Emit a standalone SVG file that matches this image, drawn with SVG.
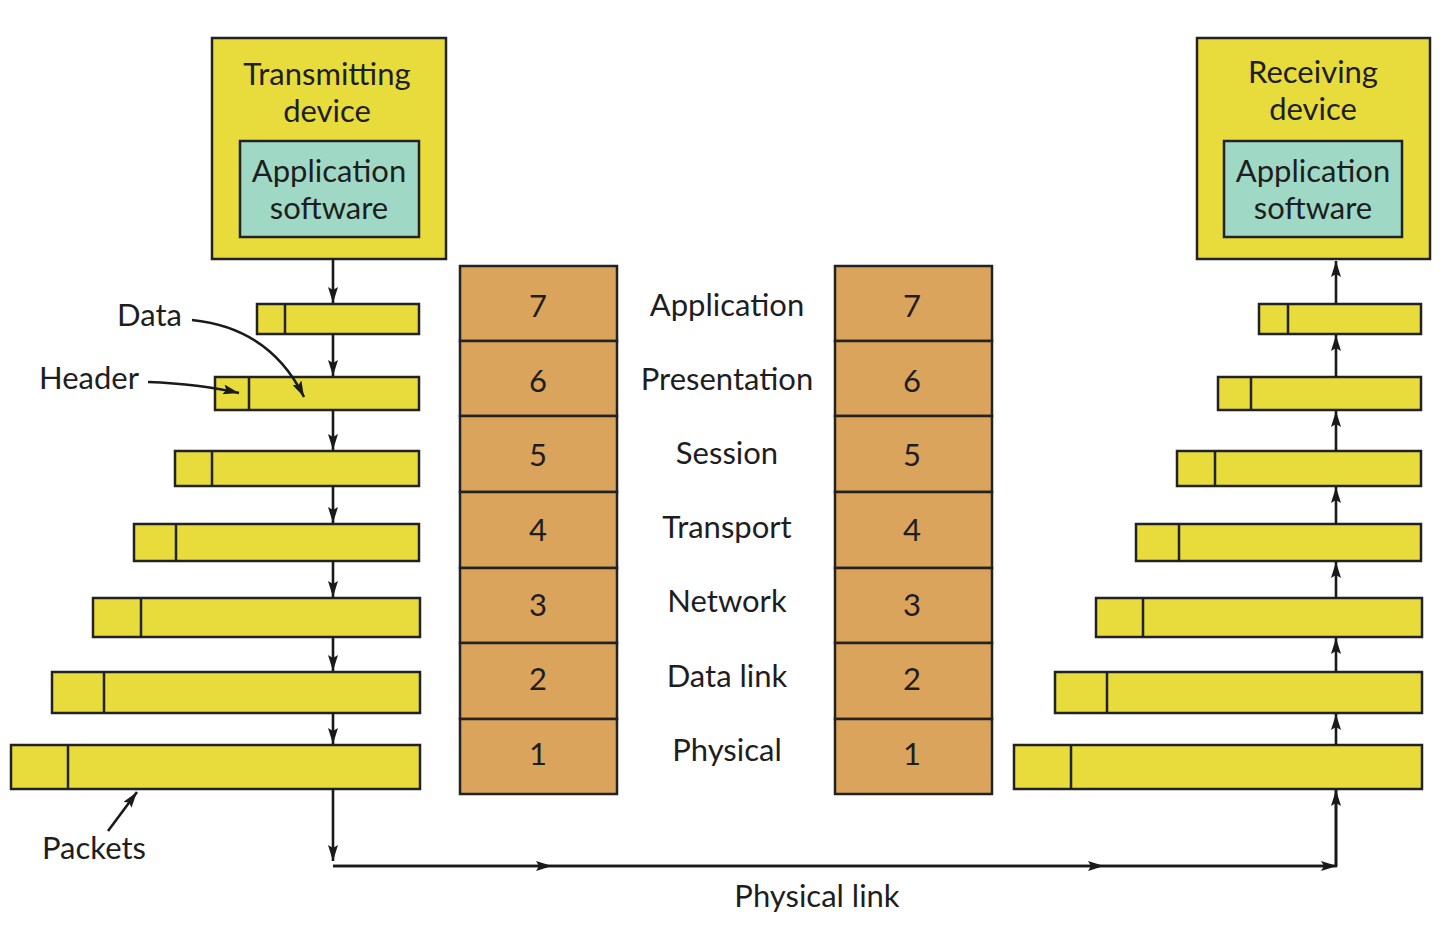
<svg xmlns="http://www.w3.org/2000/svg" width="1440" height="949" viewBox="0 0 1440 949">
<style>
text{font-family:Lato,"Liberation Sans",sans-serif;fill:#1e1e1e;font-size:31px;text-anchor:middle}
.lbl{text-anchor:start}
.dev{fill:#e7dc3c;stroke:#222;stroke-width:2.5}
.app{fill:#9fd9c6;stroke:#222;stroke-width:2.5}
.pk{fill:#e7dc3c;stroke:#222;stroke-width:2.5}
.div{stroke:#222;stroke-width:2.5}
.lay{fill:#dba45c;stroke:#222;stroke-width:2.5}
.ln{fill:none;stroke:#1a1a1a;stroke-width:2.6}
</style>
<defs>
<marker id="ah" viewBox="0 0 16 10" refX="16" refY="5" markerWidth="16" markerHeight="10" markerUnits="userSpaceOnUse" orient="auto"><path d="M0,0 L16,5 L0,10 L3,5 z" fill="#1a1a1a"/></marker>
</defs>
<rect width="1440" height="949" fill="#fff"/>
<g id="transmitting-device">
<rect class="dev" x="212" y="38" width="234" height="221"/>
<text x="327" y="85">Transmitting</text>
<text x="327" y="122">device</text>
</g>
<g id="transmit-app">
<rect class="app" x="240" y="141" width="179" height="96"/>
<text x="329" y="182">Application</text>
<text x="329" y="219">software</text>
</g>
<g id="receiving-device">
<rect class="dev" x="1197" y="38" width="233" height="221"/>
<text x="1313" y="83">Receiving</text>
<text x="1313" y="120">device</text>
</g>
<g id="receive-app">
<rect class="app" x="1224" y="141" width="178" height="96"/>
<text x="1313" y="182">Application</text>
<text x="1313" y="219">software</text>
</g>
<g id="tx-packets">
<rect class="pk" x="257" y="304" width="162" height="30"/><line class="div" x1="285" y1="304" x2="285" y2="334"/>
<rect class="pk" x="215" y="377" width="204" height="33"/><line class="div" x1="249" y1="377" x2="249" y2="410"/>
<rect class="pk" x="175" y="451" width="244" height="35"/><line class="div" x1="212" y1="451" x2="212" y2="486"/>
<rect class="pk" x="134" y="524" width="285" height="37"/><line class="div" x1="176" y1="524" x2="176" y2="561"/>
<rect class="pk" x="93" y="598" width="327" height="39"/><line class="div" x1="141" y1="598" x2="141" y2="637"/>
<rect class="pk" x="52" y="672" width="368" height="41"/><line class="div" x1="104" y1="672" x2="104" y2="713"/>
<rect class="pk" x="11" y="745" width="409" height="44"/><line class="div" x1="68" y1="745" x2="68" y2="789"/>
</g>
<g id="rx-packets">
<rect class="pk" x="1259" y="304" width="162" height="30"/><line class="div" x1="1288" y1="304" x2="1288" y2="334"/>
<rect class="pk" x="1218" y="377" width="203" height="33"/><line class="div" x1="1251" y1="377" x2="1251" y2="410"/>
<rect class="pk" x="1177" y="451" width="244" height="35"/><line class="div" x1="1215" y1="451" x2="1215" y2="486"/>
<rect class="pk" x="1136" y="524" width="285" height="37"/><line class="div" x1="1179" y1="524" x2="1179" y2="561"/>
<rect class="pk" x="1096" y="598" width="326" height="39"/><line class="div" x1="1143" y1="598" x2="1143" y2="637"/>
<rect class="pk" x="1055" y="672" width="367" height="41"/><line class="div" x1="1107" y1="672" x2="1107" y2="713"/>
<rect class="pk" x="1014" y="745" width="408" height="44"/><line class="div" x1="1071" y1="745" x2="1071" y2="789"/>
</g>
<g id="tx-stack">
<rect class="lay" x="460" y="266" width="157" height="75"/><text x="538" y="317">7</text>
<rect class="lay" x="460" y="341" width="157" height="75"/><text x="538" y="392">6</text>
<rect class="lay" x="460" y="416" width="157" height="76"/><text x="538" y="466">5</text>
<rect class="lay" x="460" y="492" width="157" height="76"/><text x="538" y="541">4</text>
<rect class="lay" x="460" y="568" width="157" height="75"/><text x="538" y="616">3</text>
<rect class="lay" x="460" y="643" width="157" height="76"/><text x="538" y="690">2</text>
<rect class="lay" x="460" y="719" width="157" height="75"/><text x="538" y="765">1</text>
</g>
<g id="rx-stack">
<rect class="lay" x="835" y="266" width="157" height="75"/><text x="912" y="317">7</text>
<rect class="lay" x="835" y="341" width="157" height="75"/><text x="912" y="392">6</text>
<rect class="lay" x="835" y="416" width="157" height="76"/><text x="912" y="466">5</text>
<rect class="lay" x="835" y="492" width="157" height="76"/><text x="912" y="541">4</text>
<rect class="lay" x="835" y="568" width="157" height="75"/><text x="912" y="616">3</text>
<rect class="lay" x="835" y="643" width="157" height="76"/><text x="912" y="690">2</text>
<rect class="lay" x="835" y="719" width="157" height="75"/><text x="912" y="765">1</text>
</g>
<g id="layer-names">
<text x="727" y="316">Application</text>
<text x="727" y="390">Presentation</text>
<text x="727" y="464">Session</text>
<text x="727" y="538">Transport</text>
<text x="727" y="612">Network</text>
<text x="727" y="687">Data link</text>
<text x="727" y="761">Physical</text>
</g>
<g id="annotations">
<text class="lbl" x="117" y="326">Data</text>
<text class="lbl" x="39" y="389">Header</text>
<text class="lbl" x="42" y="859">Packets</text>
<text x="817" y="907">Physical link</text>
</g>
<g id="connectors">
<line class="ln" x1="333" y1="259" x2="333" y2="303" marker-end="url(#ah)"/>
<line class="ln" x1="333" y1="334" x2="333" y2="376" marker-end="url(#ah)"/>
<line class="ln" x1="333" y1="410" x2="333" y2="450" marker-end="url(#ah)"/>
<line class="ln" x1="333" y1="486" x2="333" y2="523" marker-end="url(#ah)"/>
<line class="ln" x1="333" y1="561" x2="333" y2="597" marker-end="url(#ah)"/>
<line class="ln" x1="333" y1="637" x2="333" y2="671" marker-end="url(#ah)"/>
<line class="ln" x1="333" y1="713" x2="333" y2="744" marker-end="url(#ah)"/>
<line class="ln" x1="333" y1="789" x2="333" y2="861" marker-end="url(#ah)"/>
<polyline class="ln" points="333,866 1336,866 1336,790"/>
<line class="ln" x1="333" y1="866" x2="552" y2="866" marker-end="url(#ah)"/>
<line class="ln" x1="552" y1="866" x2="1104" y2="866" marker-end="url(#ah)"/>
<line class="ln" x1="1104" y1="866" x2="1337" y2="866" marker-end="url(#ah)"/>
<line class="ln" x1="1336" y1="866" x2="1336" y2="790" marker-end="url(#ah)"/>
<line class="ln" x1="1336" y1="745" x2="1336" y2="714" marker-end="url(#ah)"/>
<line class="ln" x1="1336" y1="672" x2="1336" y2="638" marker-end="url(#ah)"/>
<line class="ln" x1="1336" y1="598" x2="1336" y2="562" marker-end="url(#ah)"/>
<line class="ln" x1="1336" y1="524" x2="1336" y2="487" marker-end="url(#ah)"/>
<line class="ln" x1="1336" y1="451" x2="1336" y2="411" marker-end="url(#ah)"/>
<line class="ln" x1="1336" y1="377" x2="1336" y2="335" marker-end="url(#ah)"/>
<line class="ln" x1="1336" y1="304" x2="1336" y2="261" marker-end="url(#ah)"/>
<path class="ln" d="M192,320 Q270,328 304,397" marker-end="url(#ah)"/>
<path class="ln" d="M148,382 Q200,384 239,393" marker-end="url(#ah)"/>
<line class="ln" x1="108" y1="831" x2="137" y2="792" marker-end="url(#ah)"/>
</g>
</svg>
